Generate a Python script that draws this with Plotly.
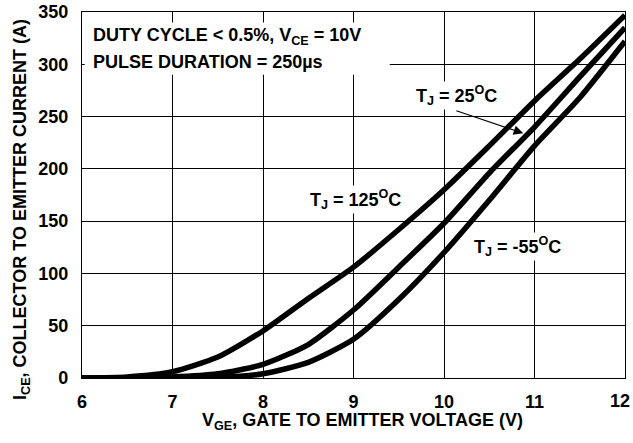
import plotly.graph_objects as go

vge = [6.0, 6.5, 7.0, 7.5, 8.0, 8.5, 9.0, 9.5, 10.0, 10.5, 11.0, 11.5, 12.0]
ice_125 = [0, 1, 6, 20, 45, 76, 106, 142, 180, 222, 265, 305, 347]
ice_25 = [0, 0.3, 1, 4, 13, 32, 65, 106, 148, 196, 240, 288, 335]
ice_m55 = [0, 0, 0, 0.5, 4, 15, 37, 75, 120, 170, 222, 268, 322]

x_ticks = [6, 7, 8, 9, 10, 11, 12]
y_ticks = [0, 50, 100, 150, 200, 250, 300, 350]

FONT = "Liberation Sans"
FS = 18

fig = go.Figure()
for ys in (ice_125, ice_25, ice_m55):
    fig.add_trace(go.Scatter(x=vge, y=ys, mode="lines",
                             line=dict(color="black", width=5.5, shape="spline", smoothing=0.6),
                             cliponaxis=False, showlegend=False, hoverinfo="skip"))

ann_font = dict(family=FONT, size=FS, color="black", weight="bold")

# white panel behind the test-condition text
fig.add_shape(type="rect", xref="x", yref="y", x0=6.03, x1=9.40, y0=290, y1=340,
              fillcolor="white", line=dict(width=0), layer="above")

annotations = [
    dict(x=6.095, y=326.5, xanchor="left", yanchor="middle",
         text="DUTY CYCLE &lt; 0.5%, V<sub>CE</sub> = 10V", bgcolor="rgba(0,0,0,0)"),
    dict(x=6.095, y=302, xanchor="left", yanchor="middle",
         text="PULSE DURATION = 250µs", bgcolor="rgba(0,0,0,0)"),
    dict(x=10.14, y=270, xanchor="center", yanchor="middle",
         text="T<sub>J</sub> = 25<sup>O</sup>C", bgcolor="white"),
    dict(x=9.02, y=171, xanchor="center", yanchor="middle",
         text="T<sub>J</sub> = 125<sup>O</sup>C", bgcolor="white"),
    dict(x=10.81, y=126, xanchor="center", yanchor="middle",
         text="T<sub>J</sub> = -55<sup>O</sup>C", bgcolor="white"),
]
for a in annotations:
    fig.add_annotation(**a, showarrow=False, font=ann_font, borderpad=1)

fig.add_annotation(x=10.876, y=234, ax=10.12, ay=256, xref="x", yref="y",
                   axref="x", ayref="y", text="", showarrow=True,
                   arrowhead=2, arrowsize=1.6, arrowwidth=1.2, arrowcolor="black")

# axis titles
fig.add_annotation(xref="paper", yref="paper", x=0.5166, y=-0.118,
                   xanchor="center", yanchor="middle", showarrow=False,
                   text="V<sub>GE</sub>, GATE TO EMITTER VOLTAGE (V)", font=ann_font)
fig.add_annotation(xref="paper", yref="paper", x=-0.1105, y=0.462,
                   xanchor="center", yanchor="middle", showarrow=False, textangle=-90,
                   text="I<sub>CE</sub>, COLLECTOR TO EMITTER CURRENT (A)", font=ann_font)

# last x tick label placed flush with the right page edge (as in the reference)
fig.add_annotation(xref="paper", yref="paper", x=1.0125, y=-0.062,
                   xanchor="right", yanchor="middle", showarrow=False,
                   text=str(x_ticks[-1]), font=ann_font)

tick_font = dict(family=FONT, size=FS, color="black", weight="bold")
axis_common = dict(showgrid=True, gridcolor="black", gridwidth=1,
                   showline=True, linecolor="black", linewidth=1.2, mirror=True,
                   ticks="", zeroline=False, tickfont=tick_font, automargin=False)

fig.update_xaxes(range=[6, 12], tickvals=x_ticks,
                 ticktext=[str(v) if v != x_ticks[-1] else "" for v in x_ticks],
                 ticklabelstandoff=7, **axis_common)
fig.update_yaxes(range=[0, 350], tickvals=y_ticks, ticktext=[str(v) for v in y_ticks],
                 ticklabelstandoff=9, **axis_common)

fig.update_layout(template="none", width=633, height=443,
                  margin=dict(l=82, r=8, t=12, b=65, autoexpand=False),
                  plot_bgcolor="white", paper_bgcolor="white",
                  font=dict(family=FONT, color="black"))

fig.write_html("out.html", config={"displayModeBar": False},
               post_script="document.body.style.margin='0';document.body.style.padding='0';")
